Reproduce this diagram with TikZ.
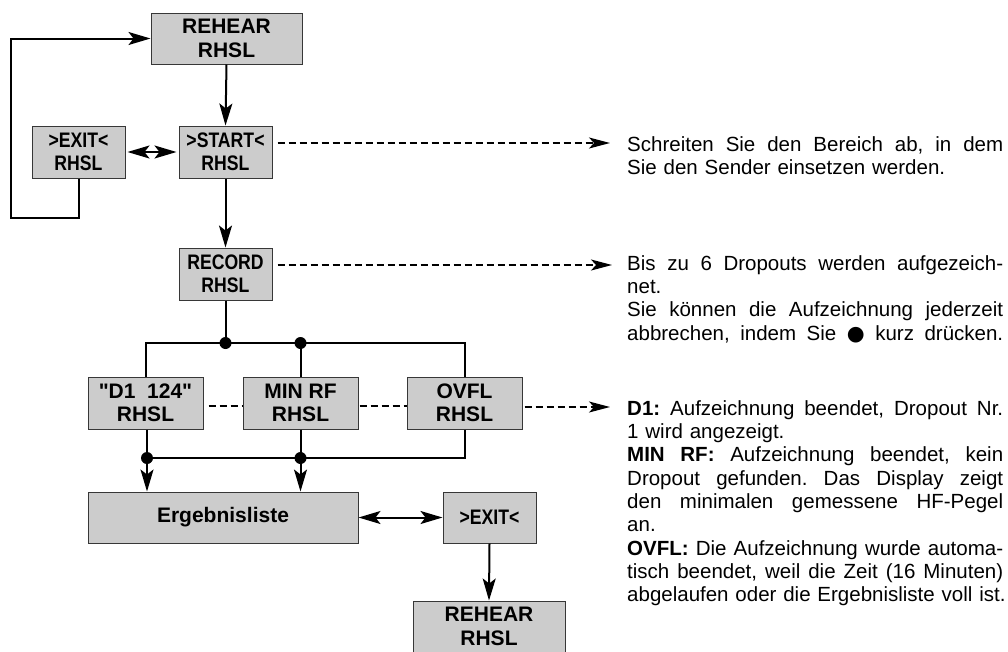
\documentclass[tikz,border=0pt]{standalone}
\usepackage{fontspec}
\setmainfont{Liberation Sans}
\newfontfamily\condfont[FakeStretch=0.84]{Liberation Sans}
\newfontfamily\plainfont{Liberation Sans}
\newfontfamily\symfont{DejaVu Sans}
\usetikzlibrary{arrows.meta,calc}
\definecolor{boxfill}{RGB}{204,204,204}
\definecolor{boxline}{RGB}{55,55,55}
\frenchspacing
\newcommand\jl[1]{\makebox[376pt][s]{\spaceskip=0.278em plus 1fil\relax #1}}
\begin{document}
\begin{tikzpicture}[x=1pt,y=-1pt,
  box/.style={draw=boxline, line width=1pt, fill=boxfill, inner sep=0pt, align=center,
     font=\fontsize{21}{23.5}\selectfont\bfseries},
  cbox/.style={box, font=\fontsize{21}{23.5}\selectfont\condfont\bfseries},
  qbox/.style={box, font=\fontsize{21}{23.5}\selectfont\plainfont\bfseries},
  conn/.style={line width=2pt},
  arr/.style={conn, -{Stealth[length=22pt,width=13pt,inset=5pt]}},
  dblarr/.style={conn, {Stealth[length=22pt,width=13pt,inset=5pt]}-{Stealth[length=22pt,width=13pt,inset=5pt]}},
  dline/.style={line width=1.6pt, dash pattern=on 7pt off 4pt},
  dlarr/.style={dline, -{Stealth[length=21pt,width=11pt,inset=5pt]}},
  jdot/.style={circle, fill=black, inner sep=0pt, minimum size=12pt},
  txt/.style={anchor=base west, inner sep=0pt, align=left, text width=380pt,
     font=\fontsize{20.5}{23.3}\selectfont\frenchspacing}
]
\useasboundingbox (0,0) rectangle (1008,651);

% boxes
\node[box,  minimum width=151pt, minimum height=51pt] (reh1)  at (226.5,38.5) {REHEAR\\RHSL};
\node[cbox, minimum width=93pt,  minimum height=52pt] (exit1) at (78.5,152)   {>EXIT<\\RHSL};
\node[cbox, minimum width=93pt,  minimum height=52pt] (start) at (225.5,152)  {>START<\\RHSL};
\node[cbox, minimum width=93pt,  minimum height=52pt] (rec)   at (225.5,274)  {RECORD\\RHSL};
\node[qbox, minimum width=115pt, minimum height=52pt] (d1)    at (145.5,403)  {"D1\ \ 124"\\RHSL};
\node[box,  minimum width=115pt, minimum height=52pt] (minrf) at (300.5,403)  {MIN RF\\RHSL};
\node[box,  minimum width=115pt, minimum height=52pt] (ovfl)  at (464.5,403)  {OVFL\\RHSL};
\node[box,  minimum width=270pt, minimum height=51pt] (erg)   at (223,517.5)  {Ergebnisliste};
\node[cbox, minimum width=93pt,  minimum height=51pt] (exit2) at (489.5,517.5) {>EXIT<};
\node[box,  minimum width=152pt, minimum height=51pt] (reh2)  at (489,626.5)  {REHEAR\\RHSL};

% main flow
\draw[arr] (reh1.south) -- (start.north);
\draw[arr] (start.south) -- (rec.north);
\draw[dblarr, shorten <=2pt, shorten >=2pt] (exit1.east) -- (start.west);
\coordinate (lp) at (11,218);
\draw[arr] (exit1.south) |- (lp) |- (reh1.west);

% branch to results
\coordinate (j1) at (224,343);
\draw[conn] (rec.south) -- (rec.south |- j1);
\draw[conn] (d1.north) -- (d1.north |- j1) -- (ovfl.north |- j1) -- (ovfl.north);
\draw[conn] (minrf.north) -- (minrf.north |- j1);
\node[jdot] (dA) at (rec.south |- j1) {};
\node[jdot] (dB) at (minrf.north |- j1) {};

\coordinate (j2) at (147,458);
\draw[conn] (d1.south -| j2) -- (j2);
\draw[conn] (minrf.south) -- (minrf.south |- j2);
\draw[conn] (ovfl.south) -- (ovfl.south |- j2) -- (j2);
\node[jdot] (dC) at (j2) {};
\node[jdot] (dD) at (minrf.south |- j2) {};
\draw[arr] (dC) -- (dC |- erg.north);
\draw[arr] (dD) -- (dD |- erg.north);

\draw[dblarr] (erg.east) -- (exit2.west);
\draw[arr] (exit2.south) -- (reh2.north);

% dashed links
\draw[dline] ([xshift=5pt]d1.east |- 0,406) -- (minrf.west |- 0,406);
\draw[dline] ([xshift=1pt]minrf.east |- 0,406) -- (ovfl.west |- 0,406);
\coordinate (e1) at (610,143);
\coordinate (e2) at (612,265);
\coordinate (e3) at (610,407);
\draw[dlarr] ([xshift=5pt]start.east |- e1) -- (e1);
\draw[dlarr] ([xshift=5pt]rec.east |- e2) -- (e2);
\draw[dlarr] ([xshift=2pt]ovfl.east |- e3) -- (e3);

% texts
\node[txt] (t1) at (627,151.3) {\jl{Schreiten Sie den Bereich ab, in dem}\\
Sie den Sender einsetzen werden.};
\node[txt] (t2) at (627,270.3) {\jl{Bis zu 6 Dropouts werden aufgezeich-}\\
net.\\
\jl{Sie können die Aufzeichnung jederzeit}\\
\jl{abbrechen, indem Sie {\symfont ●} kurz drücken.}};
\node[txt] (t3) at (627,415.3) {\jl{\textbf{D1:} Aufzeichnung beendet, Dropout Nr.}\\
1 wird angezeigt.\\
\jl{\textbf{MIN RF:} Aufzeichnung beendet, kein}\\
\jl{Dropout gefunden. Das Display zeigt}\\
\jl{den minimalen gemessene HF-Pegel}\\
an.\\
\jl{\textbf{OVFL:} Die Aufzeichnung wurde automa-}\\
\jl{tisch beendet, weil die Zeit (16 Minuten)}\\
abgelaufen oder die Ergebnisliste voll ist.};
\end{tikzpicture}
\end{document}
